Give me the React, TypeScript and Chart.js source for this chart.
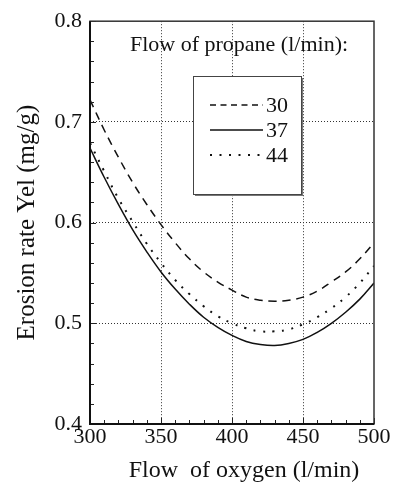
import React, { useEffect, useRef } from 'react';
import { Chart, registerables } from 'chart.js';

Chart.register(...registerables);

// ---- data ----
const oxygenFlow = [300, 310, 320, 330, 340, 350, 360, 370, 380, 390, 400, 410, 420, 430, 440, 450, 460, 470, 480, 490, 500];
const propane30 = [0.722, 0.692, 0.665, 0.640, 0.618, 0.598, 0.580, 0.564, 0.551, 0.541, 0.533, 0.526, 0.523, 0.522, 0.523, 0.526, 0.532, 0.541, 0.551, 0.564, 0.580];
const propane37 = [0.674, 0.645, 0.618, 0.593, 0.571, 0.551, 0.534, 0.519, 0.506, 0.496, 0.488, 0.482, 0.479, 0.478, 0.480, 0.484, 0.491, 0.500, 0.511, 0.524, 0.540];
const propane44 = [0.679, 0.651, 0.624, 0.601, 0.579, 0.560, 0.543, 0.529, 0.517, 0.507, 0.500, 0.495, 0.492, 0.492, 0.494, 0.499, 0.506, 0.515, 0.526, 0.540, 0.557];
const seriesLabels = ['30', '37', '44'];

const yMin = 0.4;
const yMax = 0.8;
const yStep = 0.1;
const yMinorStep = 0.02;
const xMin = 300;
const xMax = 500;
const xStep = 50;
const xMinorStep = 10;

const xAxisTitle = 'Flow  of oxygen (l/min)';
const yAxisTitle = 'Erosion rate Yel (mg/g)';
const legendTitle = 'Flow of propane (l/min):';

const FONT = '"Liberation Serif", "Times New Roman", Times, serif';

const toPoints = (ys: number[]) => oxygenFlow.map((x, i) => ({ x, y: ys[i] }));

const decorPlugin = {
  id: 'decor',
  afterDraw(chart: any) {
    const { ctx, chartArea: a, scales } = chart;
    const xs = scales.x;
    const ys = scales.y;
    ctx.save();

    // inward ticks
    ctx.strokeStyle = '#222';
    ctx.lineWidth = 1;
    ctx.setLineDash([]);
    ctx.beginPath();
    const nY = Math.round((yMax - yMin) / yMinorStep);
    const perY = Math.round(yStep / yMinorStep);
    for (let i = 0; i <= nY; i++) {
      const p = Math.round(ys.getPixelForValue(yMin + i * yMinorStep)) + 0.5;
      const len = i % perY === 0 ? 6 : 4;
      ctx.moveTo(a.left, p);
      ctx.lineTo(a.left + len, p);
    }
    const nX = Math.round((xMax - xMin) / xMinorStep);
    const perX = Math.round(xStep / xMinorStep);
    for (let i = 0; i <= nX; i++) {
      const p = Math.round(xs.getPixelForValue(xMin + i * xMinorStep)) + 0.5;
      const len = i % perX === 0 ? 6 : 4;
      ctx.moveTo(p, a.bottom);
      ctx.lineTo(p, a.bottom - len);
    }
    ctx.stroke();

    // frame
    ctx.lineWidth = 1.5;
    ctx.strokeStyle = '#333';
    ctx.strokeRect(a.left, a.top, a.right - a.left, a.bottom - a.top);
    ctx.lineWidth = 2;
    ctx.strokeStyle = '#111';
    ctx.beginPath();
    ctx.moveTo(a.left, a.top);
    ctx.lineTo(a.left, a.bottom);
    ctx.lineTo(a.right, a.bottom);
    ctx.stroke();

    // legend title
    ctx.fillStyle = '#111';
    ctx.font = `22px ${FONT}`;
    ctx.textAlign = 'center';
    ctx.textBaseline = 'middle';
    ctx.fillText(legendTitle, 239, 45);

    // legend box with shadow
    const bx = 193, by = 76, bw = 108, bh = 118;
    ctx.fillStyle = '#777';
    ctx.fillRect(bx + 2, by + 2, bw, bh);
    ctx.fillStyle = '#fff';
    ctx.fillRect(bx, by, bw, bh);
    ctx.strokeStyle = '#444';
    ctx.lineWidth = 1;
    ctx.strokeRect(bx + 0.5, by + 0.5, bw, bh);

    // legend entries
    chart.data.datasets.forEach((ds: any, i: number) => {
      const ly = 105 + i * 25;
      ctx.save();
      ctx.strokeStyle = ds.borderColor;
      ctx.lineWidth = ds.borderWidth;
      ctx.setLineDash(ds.legendDash || []);
      ctx.beginPath();
      ctx.moveTo(210, ly);
      ctx.lineTo(263, ly);
      ctx.stroke();
      ctx.restore();
      ctx.fillStyle = '#111';
      ctx.font = `22px ${FONT}`;
      ctx.textAlign = 'left';
      ctx.textBaseline = 'middle';
      ctx.fillText(ds.label, 266, ly + 1);
    });

    // x axis title
    ctx.fillStyle = '#111';
    ctx.font = `24px ${FONT}`;
    ctx.textAlign = 'center';
    ctx.textBaseline = 'middle';
    ctx.fillText(xAxisTitle, 244, 471);

    ctx.restore();
  },
};

export default function App() {
  const canvasRef = useRef<HTMLCanvasElement | null>(null);

  useEffect(() => {
    const canvas = canvasRef.current;
    if (!canvas) return;
    const isEdge = (v: number, lo: number, hi: number) => Math.abs(v - lo) < 1e-6 || Math.abs(v - hi) < 1e-6;
    const chart = new Chart(canvas, {
      type: 'line',
      data: {
        datasets: [
          {
            label: seriesLabels[0],
            data: toPoints(propane30),
            borderColor: '#111',
            borderWidth: 1.5,
            borderDash: [8, 6],
            legendDash: [6, 4.5],
            pointRadius: 0,
            tension: 0.4,
            fill: false,
          } as any,
          {
            label: seriesLabels[1],
            data: toPoints(propane37),
            borderColor: '#111',
            borderWidth: 1.5,
            borderDash: [],
            legendDash: [],
            pointRadius: 0,
            tension: 0.4,
            fill: false,
          } as any,
          {
            label: seriesLabels[2],
            data: toPoints(propane44),
            borderColor: '#111',
            borderWidth: 2,
            borderDash: [2, 7.5],
            legendDash: [2, 7.5],
            pointRadius: 0,
            tension: 0.4,
            fill: false,
          } as any,
        ],
      },
      options: {
        animation: false,
        responsive: false,
        maintainAspectRatio: false,
        devicePixelRatio: 1,
        layout: { padding: { top: 16, right: 19, left: 0, bottom: 0 } },
        plugins: {
          legend: { display: false },
          tooltip: { enabled: false },
        },
        scales: {
          x: {
            type: 'linear',
            min: xMin,
            max: xMax,
            afterFit: (s: any) => { s.height = 65; },
            ticks: {
              stepSize: xStep,
              color: '#111',
              padding: 0,
              font: { family: FONT, size: 22 },
              maxRotation: 0,
            },
            grid: {
              color: (c: any) => (c.tick && isEdge(c.tick.value, xMin, xMax) ? 'rgba(0,0,0,0)' : '#333'),
              lineWidth: 1,
              drawTicks: false,
            },
            border: { display: false, dash: [1, 2] },
          },
          y: {
            type: 'linear',
            min: yMin,
            max: yMax,
            afterFit: (s: any) => { s.width = 90; },
            ticks: {
              stepSize: yStep,
              color: '#111',
              padding: 8,
              font: { family: FONT, size: 22 },
              callback: (v: any) => Number(v).toFixed(1),
            },
            grid: {
              color: (c: any) => (c.tick && isEdge(c.tick.value, yMin, yMax) ? 'rgba(0,0,0,0)' : '#333'),
              lineWidth: 1,
              drawTicks: false,
            },
            border: { display: false, dash: [1, 2] },
            title: {
              display: true,
              text: yAxisTitle,
              color: '#111',
              font: { family: FONT, size: 25 },
              padding: { top: 12, bottom: 0 },
            },
          },
        },
      },
      plugins: [decorPlugin],
    });
    return () => chart.destroy();
  }, []);

  return (
    <div style={{ position: 'fixed', left: 0, top: 0, width: 393, height: 489, background: '#fff' }}>
      <canvas ref={canvasRef} width={393} height={489} style={{ display: 'block', width: 393, height: 489 }} />
    </div>
  );
}
